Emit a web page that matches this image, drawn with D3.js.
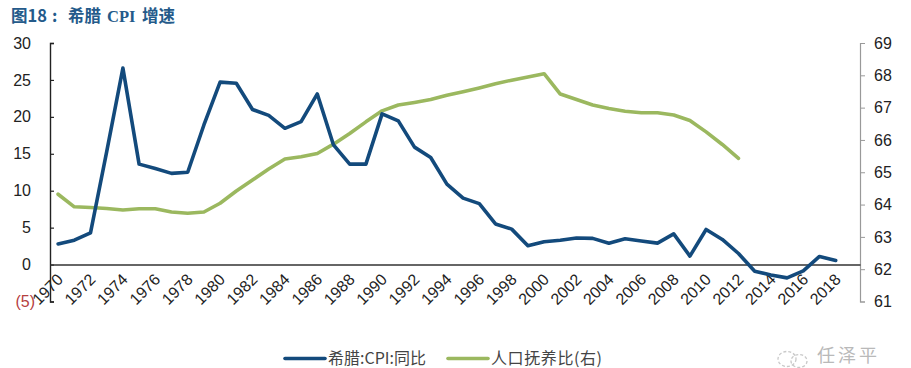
<!DOCTYPE html>
<html><head><meta charset="utf-8">
<script src="https://cdn.jsdelivr.net/npm/d3@7"></script>
<style>html,body{margin:0;padding:0;background:#fff}svg{display:block}</style>
</head><body><svg id="c" width="911" height="368"></svg>
<script>
const years = d3.range(1970, 2020);
const cpiValues = [2.8,3.3,4.3,15.3,26.6,13.6,13.0,12.35,12.5,18.9,24.7,24.55,21,20.2,18.45,19.35,23.1,16.2,13.6,13.6,20.4,19.45,15.9,14.5,10.9,9.0,8.25,5.5,4.8,2.55,3.1,3.3,3.6,3.55,2.9,3.5,3.2,2.9,4.15,1.15,4.75,3.4,1.5,-0.9,-1.4,-1.8,-0.85,1.1,0.55];
const dependencyValues = [64.32,63.93,63.91,63.88,63.83,63.87,63.87,63.77,63.73,63.77,64.04,64.42,64.76,65.1,65.41,65.48,65.58,65.87,66.2,66.56,66.9,67.08,67.16,67.25,67.38,67.49,67.61,67.74,67.85,67.95,68.05,67.42,67.25,67.08,66.97,66.89,66.84,66.84,66.77,66.6,66.25,65.86,65.43];
const leftTicks = [-5,0,5,10,15,20,25,30];
const rightTicks = [61,62,63,64,65,66,67,68,69];
const xLabels = d3.range(1970, 2019, 2);
const titleParts = ["图18", ":", "希腊", "CPI", "增速"];
const legendNames = ["希腊:CPI:同比", "人口抚养比(右)"];
const watermark = "任泽平";

const BLUE = "#134a7c", GREEN = "#9bb85f", SANS = "'Liberation Sans',Arial,sans-serif", CJK = "'Noto Sans CJK SC',sans-serif";
const svg = d3.select("#c");
const x = d3.scaleBand().domain(years).range([50, 860]);
const cx = y => x(y) + x.bandwidth() / 2;
const yL = d3.scaleLinear().domain([-5, 30]).range([301.5, 43]);
const yR = d3.scaleLinear().domain([61, 69]).range([301.5, 43]);

// Title
const tAttrs = s => s.attr("y", 22).attr("fill", "#245a8a").attr("font-size", 16.5).attr("font-weight", 700).attr("font-family", CJK);
svg.append("text").call(tAttrs).attr("x", 11).text(titleParts[0]);
svg.append("text").call(tAttrs).attr("x", 52).text(titleParts[1]);
svg.append("text").call(tAttrs).attr("x", 68).text(titleParts[2]);
svg.append("text").call(tAttrs).attr("x", 107).attr("font-family", "'Liberation Serif',serif").text(titleParts[3]);
svg.append("text").call(tAttrs).attr("x", 142).text(titleParts[4]);

// Left axis
const gL = svg.append("g").attr("transform", "translate(50,0)")
  .call(d3.axisLeft(yL).tickValues(leftTicks).tickSize(-4).tickPadding(19)
    .tickFormat(d => d < 0 ? `(${-d})` : d));
gL.select(".domain").attr("stroke", "#222").attr("stroke-width", 1.4);
gL.selectAll(".tick line").attr("stroke", "#222").attr("stroke-width", 1.2);
gL.selectAll("text").attr("font-family", SANS).attr("font-size", 16)
  .attr("fill", d => d < 0 ? "#b5403f" : "#222").attr("dx", d => d < 0 ? 4 : 0);

// Right axis
const gR = svg.append("g").attr("transform", "translate(860,0)")
  .call(d3.axisRight(yR).tickValues(rightTicks).tickSize(5).tickPadding(9));
gR.select(".domain").attr("stroke", "#999").attr("stroke-width", 1.2);
gR.selectAll(".tick line").attr("stroke", "#999");
gR.selectAll("text").attr("font-family", SANS).attr("font-size", 16).attr("fill", "#222");

// X axis at zero
const gX = svg.append("g").attr("transform", `translate(0,${yL(0)})`)
  .call(d3.axisBottom(x).tickValues(xLabels).tickSize(0).tickPadding(0));
gX.select(".domain").attr("stroke", "#333").attr("stroke-width", 1.4);
gX.selectAll("text").attr("font-family", SANS).attr("font-size", 16).attr("fill", "#222")
  .attr("text-anchor", "end").attr("dy", 0)
  .attr("transform", "translate(6,16) rotate(-45)");

// Lines
const mk = (sc) => d3.line().x((d, i) => cx(years[i])).y(d => sc(d)).curve(d3.curveLinear);
svg.append("path").attr("d", mk(yR)(dependencyValues)).attr("fill", "none").attr("stroke", GREEN)
  .attr("stroke-width", 3.6).attr("stroke-linejoin", "round").attr("stroke-linecap", "round");
svg.append("path").attr("d", mk(yL)(cpiValues)).attr("fill", "none").attr("stroke", BLUE)
  .attr("stroke-width", 3.6).attr("stroke-linejoin", "round").attr("stroke-linecap", "round");

// Legend
const lg = [[285, 325, 328, BLUE, 0], [448, 488, 491, GREEN, 0.6]];
lg.forEach((l, i) => {
  svg.append("line").attr("x1", l[0]).attr("x2", l[1]).attr("y1", 358.5).attr("y2", 358.5)
    .attr("stroke", l[3]).attr("stroke-width", 3.6).attr("stroke-linecap", "round");
  svg.append("text").attr("x", l[2]).attr("y", 364).attr("font-family", CJK)
    .attr("font-size", 16).attr("letter-spacing", l[4]).attr("fill", "#444").text(legendNames[i]);
});

// Watermark
const wm = svg.append("g").attr("stroke", "#c9c9c9").attr("fill", "none").attr("stroke-width", 1.3);
wm.append("ellipse").attr("cx", 787).attr("cy", 359).attr("rx", 9).attr("ry", 7.5).attr("stroke-dasharray", "3 2");
wm.append("ellipse").attr("cx", 799).attr("cy", 361).attr("rx", 8).attr("ry", 6.5).attr("stroke-dasharray", "3 2");
svg.append("text").attr("x", 817).attr("y", 362).attr("font-family", CJK).attr("font-size", 18)
  .attr("letter-spacing", 3).attr("fill", "#b9b9b9").text(watermark);
</script></body></html>
